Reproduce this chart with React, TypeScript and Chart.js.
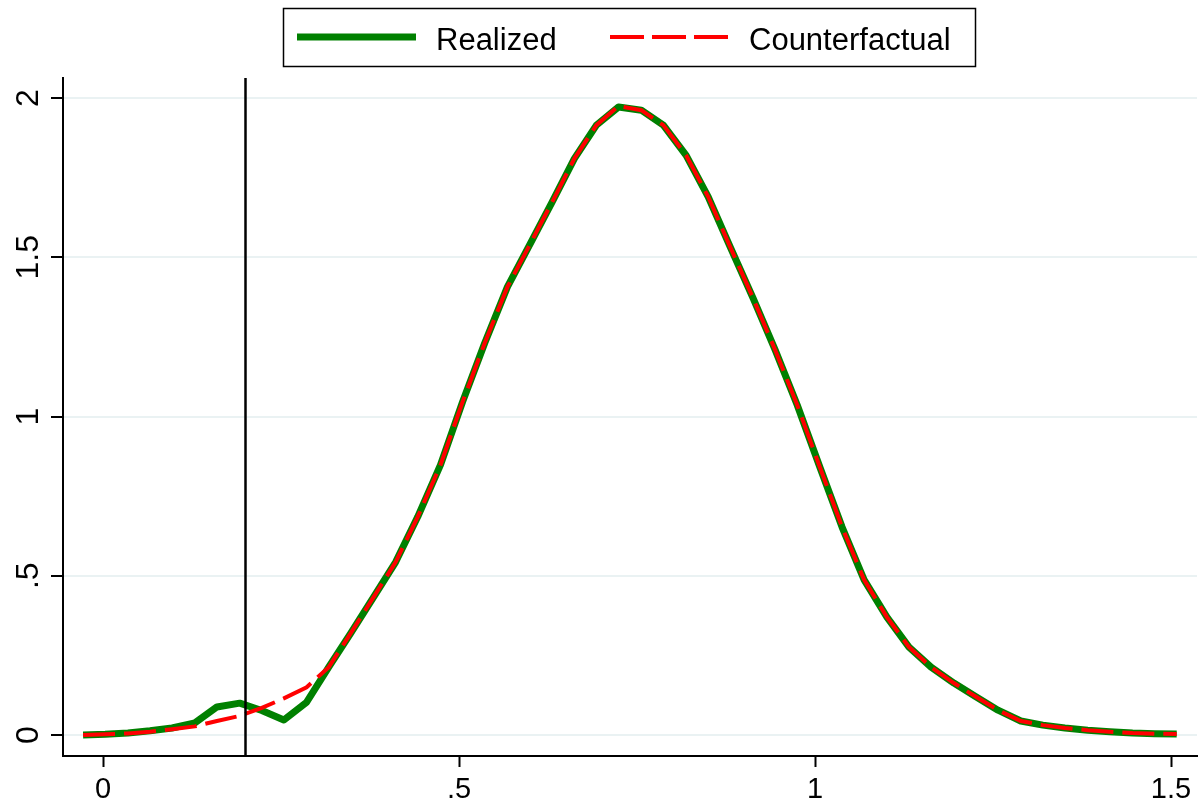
import React, { useEffect, useRef } from 'react';
import { Chart, registerables } from 'chart.js';

Chart.register(...registerables);

// ---- data ----
const xValues = [
  -0.028, 0.003, 0.035, 0.066, 0.097, 0.129, 0.160, 0.192, 0.223, 0.254,
  0.286, 0.317, 0.348, 0.380, 0.411, 0.442, 0.474, 0.505, 0.536, 0.568,
  0.599, 0.630, 0.662, 0.693, 0.724, 0.756, 0.787, 0.819, 0.850, 0.881,
  0.913, 0.944, 0.975, 1.007, 1.038, 1.069, 1.101, 1.132, 1.163, 1.195,
  1.226, 1.257, 1.289, 1.320, 1.351, 1.383, 1.414, 1.446, 1.477, 1.508,
];
const realized = [
  0.000, 0.002, 0.006, 0.013, 0.022, 0.038, 0.088, 0.100, 0.077, 0.047,
  0.103, 0.213, 0.320, 0.433, 0.543, 0.685, 0.848, 1.046, 1.230, 1.407,
  1.538, 1.670, 1.810, 1.915, 1.972, 1.962, 1.915, 1.820, 1.690, 1.532,
  1.372, 1.209, 1.036, 0.840, 0.653, 0.487, 0.370, 0.276, 0.213, 0.163,
  0.120, 0.078, 0.044, 0.031, 0.022, 0.015, 0.010, 0.006, 0.004, 0.003,
];
const counterfactual = [
  0.000, 0.002, 0.005, 0.010, 0.018, 0.027, 0.044, 0.060, 0.085, 0.115,
  0.150, 0.213, 0.320, 0.433, 0.543, 0.685, 0.848, 1.046, 1.230, 1.407,
  1.538, 1.670, 1.810, 1.915, 1.975, 1.962, 1.915, 1.820, 1.690, 1.532,
  1.372, 1.209, 1.036, 0.840, 0.653, 0.487, 0.370, 0.276, 0.213, 0.163,
  0.120, 0.078, 0.044, 0.031, 0.022, 0.015, 0.010, 0.006, 0.004, 0.003,
];
const seriesNames = ['Realized', 'Counterfactual'];
const xTickValues = [0, 0.5, 1, 1.5];
const xTickLabels = ['0', '.5', '1', '1.5'];
const yTickValues = [0, 0.5, 1, 1.5, 2];
const yTickLabels = ['0', '.5', '1', '1.5', '2'];
const cutoffX = 0.2;

// ---- styles ----
const W = 1199;
const H = 806;
const FONT = '"Liberation Sans", Arial, Helvetica, sans-serif';
const GREEN = '#008000';
const RED = '#ff0000';
const GRID = '#eaf2f3';
const DASH = [32, 9];

const vlinePlugin = {
  id: 'vline',
  afterDatasetsDraw(chart: any) {
    const { ctx, chartArea, scales } = chart;
    const px = Math.round(scales.x.getPixelForValue(cutoffX)) + 0.5;
    ctx.save();
    ctx.strokeStyle = '#000';
    ctx.lineWidth = 2.5;
    ctx.beginPath();
    ctx.moveTo(px, chartArea.top);
    ctx.lineTo(px, chartArea.bottom);
    ctx.stroke();
    ctx.restore();
  },
};

const yLabelPlugin = {
  id: 'ylabels',
  afterDraw(chart: any) {
    const { ctx, scales } = chart;
    ctx.save();
    ctx.fillStyle = '#000';
    ctx.font = `32px ${FONT}`;
    ctx.textAlign = 'center';
    ctx.textBaseline = 'alphabetic';
    yTickValues.forEach((v, i) => {
      const py = scales.y.getPixelForValue(v);
      ctx.save();
      ctx.translate(38, py);
      ctx.rotate(-Math.PI / 2);
      ctx.fillText(yTickLabels[i], 0, 0);
      ctx.restore();
    });
    ctx.restore();
  },
};

const legendPlugin = {
  id: 'boxlegend',
  afterDraw(chart: any) {
    const { ctx } = chart;
    ctx.save();
    ctx.fillStyle = '#fff';
    ctx.fillRect(283, 8, 692, 58);
    ctx.strokeStyle = '#000';
    ctx.lineWidth = 1.5;
    ctx.strokeRect(283.5, 8.5, 692, 58);
    const ly = 37;
    ctx.lineCap = 'butt';
    ctx.strokeStyle = GREEN;
    ctx.lineWidth = 7;
    ctx.beginPath();
    ctx.moveTo(297, ly);
    ctx.lineTo(416, ly);
    ctx.stroke();
    ctx.strokeStyle = RED;
    ctx.lineWidth = 4;
    ctx.setLineDash([34, 8]);
    ctx.beginPath();
    ctx.moveTo(610, ly);
    ctx.lineTo(729, ly);
    ctx.stroke();
    ctx.setLineDash([]);
    ctx.fillStyle = '#000';
    ctx.font = `31px ${FONT}`;
    ctx.textAlign = 'left';
    ctx.textBaseline = 'alphabetic';
    ctx.fillText(seriesNames[0], 436, 50);
    ctx.fillText(seriesNames[1], 749, 50);
    ctx.restore();
  },
};

export default function App() {
  const ref = useRef<HTMLCanvasElement>(null);

  useEffect(() => {
    if (!ref.current) return;
    const chart = new Chart(ref.current, {
      type: 'line',
      data: {
        datasets: [
          {
            label: seriesNames[1],
            data: xValues.map((x, i) => ({ x, y: counterfactual[i] })),
            borderColor: RED,
            borderWidth: 4,
            borderDash: DASH,
            pointRadius: 0,
            tension: 0,
            fill: false,
            order: 1,
          },
          {
            label: seriesNames[0],
            data: xValues.map((x, i) => ({ x, y: realized[i] })),
            borderColor: GREEN,
            borderWidth: 7,
            pointRadius: 0,
            tension: 0,
            fill: false,
            borderJoinStyle: 'round',
            order: 2,
          },
        ],
      },
      options: {
        responsive: false,
        animation: false,
        devicePixelRatio: 1,
        layout: { padding: { top: 78, right: 2, left: 0, bottom: 0 } },
        plugins: {
          legend: { display: false },
          tooltip: { enabled: false },
          title: { display: false },
        },
        scales: {
          x: {
            type: 'linear',
            min: -0.0562,
            max: 1.5365,
            afterBuildTicks: (scale: any) => {
              scale.ticks = xTickValues.map((v) => ({ value: v }));
            },
            afterFit: (scale: any) => {
              scale.height = 50;
            },
            grid: {
              drawOnChartArea: false,
              drawTicks: true,
              tickLength: 11,
              tickWidth: 2,
              tickColor: '#000',
              color: '#000',
            },
            border: { display: true, color: '#000', width: 2 },
            ticks: {
              autoSkip: false,
              maxRotation: 0,
              minRotation: 0,
              padding: 6,
              color: '#000',
              font: { family: FONT, size: 29 },
              callback: (v: any) => {
                const i = xTickValues.findIndex((t) => Math.abs(t - Number(v)) < 1e-9);
                return i >= 0 ? xTickLabels[i] : '';
              },
            },
          },
          y: {
            type: 'linear',
            min: -0.066,
            max: 2.063,
            afterBuildTicks: (scale: any) => {
              scale.ticks = yTickValues.map((v) => ({ value: v }));
            },
            afterFit: (scale: any) => {
              scale.width = 63;
            },
            grid: {
              color: GRID,
              lineWidth: 2,
              drawTicks: true,
              tickLength: 12,
              tickWidth: 2,
              tickColor: '#000',
            },
            border: { display: true, color: '#000', width: 2 },
            ticks: { display: false },
          },
        },
      },
      plugins: [vlinePlugin, yLabelPlugin, legendPlugin],
    });
    return () => chart.destroy();
  }, []);

  return (
    <div style={{ position: 'fixed', left: 0, top: 0, width: W, height: H, background: '#fff' }}>
      <canvas ref={ref} width={W} height={H} style={{ display: 'block' }} />
    </div>
  );
}
